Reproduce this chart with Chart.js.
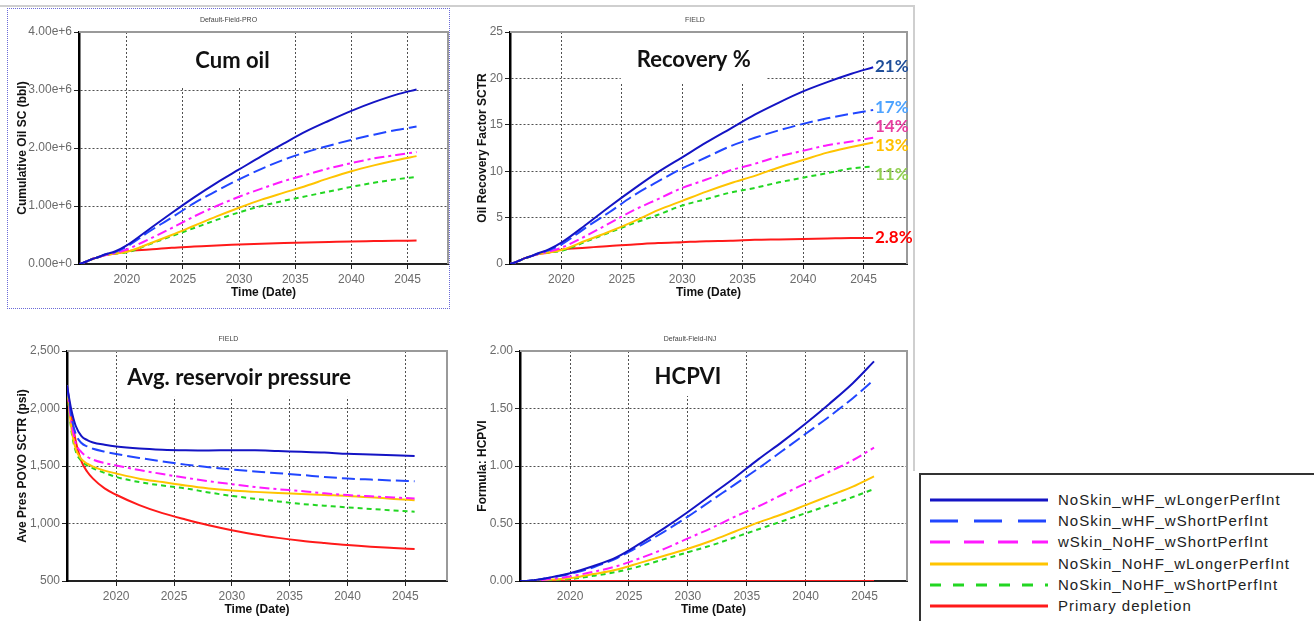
<!DOCTYPE html>
<html>
<head>
<meta charset="utf-8">
<script src="https://cdn.jsdelivr.net/npm/chart.js@4.4.1/dist/chart.umd.min.js"></script>
<style>
  html, body { margin: 0; padding: 0; background: #fff; }
  body { width: 1314px; height: 621px; position: relative; overflow: hidden; font-family: Arial, "Liberation Sans", sans-serif; }
  canvas { position: absolute; }
  .frame-top { position: absolute; left: 0; top: 5px; width: 915px; border-top: 2px solid #cfcfcf; }
  .frame-right { position: absolute; left: 913px; top: 5px; height: 466px; border-left: 2px solid #cfcfcf; }
  .select-box { position: absolute; left: 7px; top: 8px; width: 441px; height: 299px; border: 1px dotted #6a6ad8; }
  #legend { position: absolute; left: 919px; top: 473px; width: 400px; height: 160px; border: 2px solid #333; background: #fff; }
  .leg-row { position: absolute; left: 0; width: 400px; height: 20px; }
  .leg-row svg { position: absolute; left: 9px; top: 0; }
  .leg-row span { position: absolute; left: 137px; top: 1px; font-size: 15px; letter-spacing: 1px; color: #222; white-space: nowrap; }
</style>
</head>
<body>
<div class="frame-top"></div>
<div class="frame-right"></div>
<div class="select-box"></div>

<canvas id="cumOilChart" width="441" height="296" style="left:8px; top:8px;"></canvas>
<canvas id="recoveryChart" width="454" height="296" style="left:468px; top:8px;"></canvas>
<canvas id="pressureChart" width="441" height="301" style="left:8px; top:320px;"></canvas>
<canvas id="hcpviChart" width="444" height="301" style="left:468px; top:320px;"></canvas>

<div id="legend"></div>

<script>
// series (same order in every panel)
const seriesNames = [
    'NoSkin_wHF_wLongerPerfInt',
    'NoSkin_wHF_wShortPerfInt',
    'wSkin_NoHF_wShortPerfInt',
    'NoSkin_NoHF_wLongerPerfInt',
    'NoSkin_NoHF_wShortPerfInt',
    'Primary depletion'
];
const seriesColors = ['#1414c4', '#2146ff', '#ff1aff', '#ffc400', '#22d622', '#ff1a1a'];
const seriesDash = [[], [13, 5], [10, 4, 3, 4], [], [5, 4], []];
const legendDash = [[], [28, 16], [20, 14], [], [11, 12], []];

const years = [2015.75, 2016.1, 2016.5, 2017, 2017.5, 2018, 2019, 2020, 2022, 2024, 2026, 2028, 2030, 2032, 2034, 2036, 2038, 2040, 2042, 2044, 2045.8];
const xTicks = [2020, 2025, 2030, 2035, 2040, 2045];
const xMin = 2015.75;
const xMax = 2048.6;

// Cumulative Oil SC (bbl)
const cumOilLongHF  = [0, 0.02e6, 0.05e6, 0.09e6, 0.12e6, 0.16e6, 0.22e6, 0.32e6, 0.60e6, 0.88e6, 1.15e6, 1.40e6, 1.63e6, 1.86e6, 2.08e6, 2.29e6, 2.47e6, 2.64e6, 2.79e6, 2.92e6, 3.01e6];
const cumOilShortHF = [0, 0.02e6, 0.05e6, 0.09e6, 0.12e6, 0.16e6, 0.21e6, 0.30e6, 0.56e6, 0.80e6, 1.05e6, 1.26e6, 1.46e6, 1.64e6, 1.80e6, 1.93e6, 2.04e6, 2.14e6, 2.23e6, 2.31e6, 2.37e6];
const cumOilSkin    = [0, 0.02e6, 0.05e6, 0.09e6, 0.12e6, 0.15e6, 0.19e6, 0.25e6, 0.43e6, 0.62e6, 0.82e6, 1.00e6, 1.16e6, 1.30e6, 1.43e6, 1.54e6, 1.65e6, 1.74e6, 1.82e6, 1.88e6, 1.93e6];
const cumOilLongNoHF  = [0, 0.02e6, 0.05e6, 0.09e6, 0.12e6, 0.15e6, 0.18e6, 0.21e6, 0.35e6, 0.50e6, 0.66e6, 0.82e6, 0.97e6, 1.11e6, 1.23e6, 1.35e6, 1.48e6, 1.60e6, 1.70e6, 1.79e6, 1.86e6];
const cumOilShortNoHF = [0, 0.02e6, 0.05e6, 0.09e6, 0.12e6, 0.15e6, 0.18e6, 0.20e6, 0.34e6, 0.48e6, 0.62e6, 0.76e6, 0.89e6, 1.00e6, 1.09e6, 1.17e6, 1.25e6, 1.33e6, 1.40e6, 1.46e6, 1.50e6];
const cumOilPrimary = [0, 0.02e6, 0.05e6, 0.09e6, 0.12e6, 0.15e6, 0.18e6, 0.22e6, 0.25e6, 0.28e6, 0.30e6, 0.32e6, 0.335e6, 0.35e6, 0.36e6, 0.37e6, 0.38e6, 0.39e6, 0.395e6, 0.40e6, 0.405e6];

// Oil Recovery Factor SCTR (%)
const recLongHF  = [0, 0.14, 0.35, 0.63, 0.85, 1.1, 1.6, 2.3, 4.2, 6.2, 8.1, 9.9, 11.5, 13.1, 14.6, 16.1, 17.4, 18.6, 19.6, 20.5, 21.2];
const recShortHF = [0, 0.14, 0.35, 0.63, 0.85, 1.1, 1.5, 2.1, 3.9, 5.6, 7.4, 8.9, 10.3, 11.5, 12.7, 13.6, 14.4, 15.1, 15.7, 16.2, 16.6];
const recSkin    = [0, 0.14, 0.35, 0.63, 0.85, 1.05, 1.35, 1.75, 3.0, 4.4, 5.8, 7.0, 8.2, 9.1, 10.1, 10.8, 11.6, 12.2, 12.8, 13.2, 13.6];
const recLongNoHF  = [0, 0.14, 0.35, 0.63, 0.85, 1.05, 1.25, 1.5, 2.5, 3.5, 4.6, 5.8, 6.8, 7.8, 8.7, 9.5, 10.4, 11.2, 12.0, 12.6, 13.1];
const recShortNoHF = [0, 0.14, 0.35, 0.63, 0.85, 1.05, 1.25, 1.4, 2.4, 3.4, 4.4, 5.3, 6.3, 7.0, 7.7, 8.2, 8.8, 9.3, 9.8, 10.3, 10.5];
const recPrimary = [0, 0.14, 0.35, 0.63, 0.85, 1.05, 1.25, 1.55, 1.75, 1.95, 2.1, 2.25, 2.35, 2.45, 2.5, 2.6, 2.65, 2.7, 2.75, 2.8, 2.8];

const recoveryEndText = ['21%', '17%', '14%', '13%', '11%', '2.8%'];
const recoveryEndValue = [21.3, 16.9, 14.8, 12.8, 9.6, 2.9];
const recoveryEndYear = 2045.95;
const recoveryEndColors = ['#1f4e99', '#4da3ff', '#e83ea0', '#ffc000', '#92d050', '#ff0000'];

// Ave Pres POVO SCTR (psi)
const presLongHF  = [2200, 2000, 1850, 1760, 1725, 1705, 1685, 1670, 1652, 1642, 1637, 1635, 1637, 1637, 1630, 1624, 1617, 1606, 1600, 1594, 1588];
const presShortHF = [2200, 1950, 1780, 1700, 1670, 1650, 1625, 1605, 1570, 1540, 1512, 1490, 1470, 1452, 1437, 1422, 1405, 1391, 1382, 1374, 1368];
const presSkin    = [2200, 1900, 1700, 1620, 1580, 1555, 1525, 1505, 1465, 1430, 1398, 1368, 1342, 1317, 1298, 1282, 1262, 1247, 1236, 1226, 1218];
const presLongNoHF  = [2200, 1850, 1650, 1560, 1520, 1495, 1460, 1435, 1390, 1360, 1330, 1305, 1287, 1275, 1265, 1257, 1248, 1240, 1228, 1214, 1203];
const presShortNoHF = [2200, 1830, 1630, 1545, 1505, 1480, 1440, 1405, 1360, 1330, 1305, 1270, 1240, 1215, 1192, 1170, 1155, 1140, 1127, 1113, 1102];
const presPrimary = [2200, 1950, 1720, 1540, 1450, 1390, 1305, 1250, 1160, 1090, 1035, 985, 942, 905, 875, 850, 830, 812, 798, 787, 778];

// Formula: HCPVI
const hcpviLongHF  = [0, 0, 0.002, 0.008, 0.015, 0.025, 0.045, 0.068, 0.13, 0.21, 0.33, 0.46, 0.60, 0.75, 0.90, 1.06, 1.21, 1.37, 1.54, 1.72, 1.91];
const hcpviShortHF = [0, 0, 0.002, 0.008, 0.015, 0.024, 0.042, 0.062, 0.12, 0.20, 0.31, 0.43, 0.56, 0.70, 0.84, 0.98, 1.13, 1.28, 1.43, 1.59, 1.75];
const hcpviSkin    = [0, 0, 0.001, 0.004, 0.008, 0.013, 0.025, 0.04, 0.08, 0.13, 0.20, 0.28, 0.37, 0.46, 0.56, 0.65, 0.75, 0.85, 0.95, 1.05, 1.16];
const hcpviLongNoHF  = [0, 0, 0.001, 0.003, 0.005, 0.009, 0.016, 0.025, 0.06, 0.10, 0.16, 0.22, 0.28, 0.35, 0.43, 0.51, 0.58, 0.66, 0.74, 0.82, 0.91];
const hcpviShortNoHF = [0, 0, 0, 0.002, 0.004, 0.006, 0.011, 0.017, 0.045, 0.08, 0.13, 0.19, 0.25, 0.31, 0.38, 0.45, 0.52, 0.59, 0.66, 0.73, 0.80];
const hcpviPrimary = [0, 0, 0, 0, 0, 0, 0, 0, 0, 0, 0, 0, 0, 0, 0, 0, 0, 0, 0, 0, 0];

const tickFont = { family: 'Arial, "Liberation Sans", sans-serif', size: 12 };
const axisTitleFont = { family: 'Arial, "Liberation Sans", sans-serif', size: 12, weight: 'bold' };

// titles, small headers, white box behind the title, plot frame and end labels
const panelDecor = {
    id: 'panelDecor',
    beforeDatasetsDraw(chart, args, o) {
        const { ctx, chartArea: a } = chart;
        ctx.save();
        ctx.font = 'bold 22px Lato';
        const w = ctx.measureText(o.title).width;
        const cx = a.left + o.tx * a.width;
        const cy = a.top + o.ty * a.height;
        ctx.fillStyle = '#fff';
        ctx.fillRect(cx - w / 2 - o.padX, a.top + 1, w + 2 * o.padX, cy + o.padBottom - a.top - 1);
        ctx.restore();
    },
    afterDatasetsDraw(chart, args, o) {
        const { ctx, chartArea: a } = chart;
        ctx.save();
        // top and right frame
        ctx.strokeStyle = '#9a9a9a';
        ctx.lineWidth = 2;
        ctx.beginPath();
        ctx.moveTo(a.left, a.top);
        ctx.lineTo(a.right, a.top);
        ctx.lineTo(a.right, a.bottom);
        ctx.stroke();

        // big title
        ctx.font = 'bold 22px Lato';
        ctx.fillStyle = '#111';
        ctx.textAlign = 'center';
        ctx.textBaseline = 'middle';
        ctx.fillText(o.title, a.left + o.tx * a.width, a.top + o.ty * a.height);

        // small header
        ctx.font = '7px Arial';
        ctx.fillStyle = '#444';
        ctx.fillText(o.header, chart.width / 2, a.top - 12);

        // end labels
        if (o.endText) {
            const xs = chart.scales.x, ys = chart.scales.y;
            ctx.font = 'bold 17px Lato';
            ctx.textAlign = 'left';
            o.endText.forEach((t, i) => {
                ctx.fillStyle = o.endColors[i];
                ctx.fillText(t, xs.getPixelForValue(o.endYear), ys.getPixelForValue(o.endValue[i]));
            });
        }
        ctx.restore();
    }
};

function lineSets(valueLists) {
    return valueLists.map((vals, i) => ({
        label: seriesNames[i],
        data: years.map((x, j) => ({ x: x, y: vals[j] })),
        borderColor: seriesColors[i],
        borderDash: seriesDash[i],
        borderWidth: 2,
        pointRadius: 0,
        cubicInterpolationMode: 'monotone',
        fill: false
    }));
}

function makePanel(id, box, valueLists, yAxis, decor) {
    const ctx = document.getElementById(id).getContext('2d');
    return new Chart(ctx, {
        type: 'line',
        data: { datasets: lineSets(valueLists) },
        options: {
            responsive: false,
            animation: false,
            events: [],
            layout: { padding: { top: box.top, right: box.right, left: 0, bottom: 0 } },
            plugins: {
                legend: { display: false },
                tooltip: { enabled: false },
                panelDecor: decor
            },
            scales: {
                x: {
                    type: 'linear',
                    min: xMin,
                    max: xMax,
                    afterBuildTicks: s => { s.ticks = xTicks.map(v => ({ value: v })); },
                    afterFit: s => { s.height = 40; },
                    ticks: { callback: v => String(v), color: '#6b6b6b', font: tickFont, padding: 3, maxRotation: 0, autoSkip: false },
                    grid: { color: '#505050', lineWidth: 1, drawTicks: true, tickLength: 5, tickColor: '#222', tickWidth: 1 },
                    border: { display: true, color: '#222', width: 2, dash: [2, 2] },
                    title: { display: true, text: 'Time (Date)', color: '#111', font: axisTitleFont, padding: { top: 0, bottom: 4 } }
                },
                y: {
                    min: yAxis.min,
                    max: yAxis.max,
                    afterFit: s => { s.width = box.yw; },
                    ticks: { stepSize: yAxis.step, callback: yAxis.format, color: '#6b6b6b', font: tickFont, padding: 2 },
                    grid: { color: '#505050', lineWidth: 1, drawTicks: true, tickLength: 5, tickColor: '#222', tickWidth: 1 },
                    border: { display: true, color: '#000', width: 2.5, dash: [2, 2] },
                    title: { display: true, text: yAxis.title, color: '#111', font: axisTitleFont, padding: { top: 7, bottom: 0 } }
                }
            }
        },
        plugins: [panelDecor]
    });
}

makePanel('cumOilChart', { top: 24, right: 1, yw: 71 },
    [cumOilLongHF, cumOilShortHF, cumOilSkin, cumOilLongNoHF, cumOilShortNoHF, cumOilPrimary],
    { min: 0, max: 4e6, step: 1e6, title: 'Cumulative Oil SC (bbl)', format: v => v.toExponential(2) },
    { title: 'Cum oil', header: 'Default-Field-PRO', tx: 0.416, ty: 0.125, padX: 17, padBottom: 25 });

makePanel('recoveryChart', { top: 24, right: 15, yw: 42 },
    [recLongHF, recShortHF, recSkin, recLongNoHF, recShortNoHF, recPrimary],
    { min: 0, max: 25, step: 5, title: 'Oil Recovery Factor SCTR', format: v => String(v) },
    { title: 'Recovery %', header: 'FIELD', tx: 0.463, ty: 0.12, padX: 16, padBottom: 23,
      endText: recoveryEndText, endValue: recoveryEndValue, endYear: recoveryEndYear, endColors: recoveryEndColors });

makePanel('pressureChart', { top: 31, right: 2, yw: 59 },
    [presLongHF, presShortHF, presSkin, presLongNoHF, presShortNoHF, presPrimary],
    { min: 500, max: 2500, step: 500, title: 'Ave Pres POVO SCTR (psi)', format: v => v.toLocaleString('en-US') },
    { title: 'Avg. reservoir pressure', header: 'FIELD', tx: 0.453, ty: 0.117, padX: 8, padBottom: 19 });

makePanel('hcpviChart', { top: 31, right: 5, yw: 52 },
    [hcpviLongHF, hcpviShortHF, hcpviSkin, hcpviLongNoHF, hcpviShortNoHF, hcpviPrimary],
    { min: 0, max: 2, step: 0.5, title: 'Formula: HCPVI', format: v => v.toFixed(2) },
    { title: 'HCPVI', header: 'Default-Field-INJ', tx: 0.434, ty: 0.113, padX: 12, padBottom: 19 });

// legend
const legendEl = document.getElementById('legend');
seriesNames.forEach((name, i) => {
    const row = document.createElement('div');
    row.className = 'leg-row';
    row.style.top = (15 + i * 21.2) + 'px';
    row.innerHTML =
        '<svg width="118" height="20"><line x1="0" y1="10" x2="118" y2="10" stroke="' + seriesColors[i] +
        '" stroke-width="3" stroke-dasharray="' + (legendDash[i].length ? legendDash[i].join(' ') : 'none') + '"/></svg>' +
        '<span>' + name + '</span>';
    legendEl.appendChild(row);
});
</script>
</body>
</html>
